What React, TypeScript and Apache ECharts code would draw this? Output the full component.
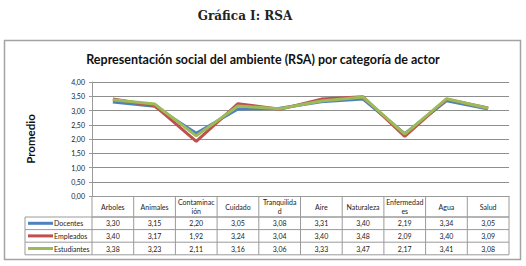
import React, { useEffect, useRef } from "react";
import * as echarts from "echarts";

const categories = ["Arboles", "Animales", "Contaminación", "Cuidado", "Tranquilidad", "Aire", "Naturaleza", "Enfermedades", "Agua", "Salud"];
const categoryLabels = ["Arboles", "Animales", "Contaminac\nión", "Cuidado", "Tranquilida\nd", "Aire", "Naturaleza", "Enfermedad\nes", "Agua", "Salud"];
const seriesNames = ["Docentes", "Empleados", "Estudiantes"];
const docentes = [3.30, 3.15, 2.20, 3.05, 3.08, 3.31, 3.40, 2.19, 3.34, 3.05];
const empleados = [3.40, 3.17, 1.92, 3.24, 3.04, 3.40, 3.48, 2.09, 3.40, 3.09];
const estudiantes = [3.38, 3.23, 2.11, 3.16, 3.06, 3.33, 3.47, 2.17, 3.41, 3.08];
const yTicks = [0, 0.5, 1, 1.5, 2, 2.5, 3, 3.5, 4];
const colors = ["#4F81BD", "#C0504D", "#9BBB59"];

const W = 526, H = 266;
const GL = 92, GR = 509, GT = 82, GB = 196;
const CAT_ROW_B = 217;
const ROW_H = 12.6;
const LEG_L = 25;
const FONT = "Lato, 'Noto Sans', sans-serif";

const fmt = (v: number) => v.toFixed(2).replace(".", ",");

export default function App() {
  const ref = useRef<HTMLDivElement>(null);
  useEffect(() => {
    if (!ref.current) return;
    const chart = echarts.init(ref.current, null, { renderer: "svg", width: W, height: H });
    const allData = [docentes, empleados, estudiantes];
    const n = categories.length;
    const colW = (GR - GL) / n;
    const lineColor = "#9a9a9a";
    const graphics: any[] = [];
    // heading
    graphics.push({
      type: "text", x: 245, y: 16,
      style: { text: "Gráfica I: RSA", font: "bold 12px 'DejaVu Serif', serif", fill: "#222", align: "center", verticalAlign: "middle" },
    });
    // outer box
    graphics.push({
      type: "rect", shape: { x: 4.5, y: 40.5, width: 516, height: 219 },
      style: { fill: "none", stroke: "#a3a3a3", lineWidth: 1.5 }, z: 0,
    });
    const tableBottom = CAT_ROW_B + ROW_H * 3;
    graphics.push({ type: "line", shape: { x1: GL, y1: CAT_ROW_B, x2: GR, y2: CAT_ROW_B }, style: { stroke: lineColor, lineWidth: 1 } });
    for (let r = 0; r <= 3; r++) {
      const y = CAT_ROW_B + ROW_H * r;
      graphics.push({ type: "line", shape: { x1: LEG_L, y1: y, x2: GR, y2: y }, style: { stroke: lineColor, lineWidth: 1 } });
    }
    for (let c = 0; c <= n; c++) {
      const x = GL + colW * c;
      graphics.push({ type: "line", shape: { x1: x, y1: GB, x2: x, y2: tableBottom }, style: { stroke: lineColor, lineWidth: 1 } });
    }
    graphics.push({ type: "line", shape: { x1: LEG_L, y1: CAT_ROW_B, x2: LEG_L, y2: tableBottom }, style: { stroke: lineColor, lineWidth: 1 } });
    categoryLabels.forEach((lab, i) => {
      graphics.push({
        type: "text", x: GL + colW * (i + 0.5), y: (GB + CAT_ROW_B) / 2,
        style: { text: lab, font: `7px ${FONT}`, fill: "#222", align: "center", verticalAlign: "middle", lineHeight: 9 },
      });
    });
    seriesNames.forEach((name, r) => {
      const yc = CAT_ROW_B + ROW_H * (r + 0.5);
      graphics.push({ type: "line", shape: { x1: 28, y1: yc, x2: 53, y2: yc }, style: { stroke: colors[r], lineWidth: 3 } });
      graphics.push({
        type: "text", x: 54, y: yc,
        style: { text: name, font: `7px ${FONT}`, fill: "#222", align: "left", verticalAlign: "middle" },
      });
      allData[r].forEach((v, i) => {
        graphics.push({
          type: "text", x: GL + colW * (i + 0.5), y: yc,
          style: { text: fmt(v), font: `7px ${FONT}`, fill: "#222", align: "center", verticalAlign: "middle" },
        });
      });
    });

    chart.setOption({
      animation: false,
      backgroundColor: "#fff",
      title: {
        text: "Representación social del ambiente (RSA) por categoría de actor",
        left: "center", top: 48,
        textStyle: { fontFamily: FONT, fontWeight: "bold", fontSize: 12.5, color: "#111" },
      },
      grid: { left: GL, right: W - GR, top: GT, bottom: H - GB, containLabel: false },
      xAxis: {
        type: "category", data: categories, boundaryGap: true,
        axisLine: { show: true, lineStyle: { color: lineColor, width: 1 } },
        axisTick: { show: false }, axisLabel: { show: false }, splitLine: { show: false },
      },
      yAxis: {
        type: "value", min: 0, max: 4, interval: 0.5,
        name: "Promedio", nameLocation: "middle", nameGap: 56, nameRotate: 90,
        nameTextStyle: { fontFamily: FONT, fontWeight: "bold", fontSize: 11.5, color: "#111" },
        axisLine: { show: true, lineStyle: { color: lineColor, width: 1 } },
        axisTick: { show: true, length: 3, lineStyle: { color: lineColor } },
        axisLabel: {
          fontFamily: FONT, fontSize: 7, color: "#222", margin: 7,
          formatter: (v: number) => (yTicks.includes(v) ? fmt(v) : ""),
        },
        splitLine: { show: true, lineStyle: { color: "#8e8e8e", width: 1 } },
      },
      series: allData.map((d, i) => ({
        name: seriesNames[i], type: "line", data: d, symbol: "none",
        lineStyle: { color: colors[i], width: 3 }, z: 2 + i,
      })),
      graphic: graphics,
    });
    return () => chart.dispose();
  }, []);
  return <div ref={ref} style={{ position: "fixed", left: 0, top: 0, width: W, height: H }} />;
}
